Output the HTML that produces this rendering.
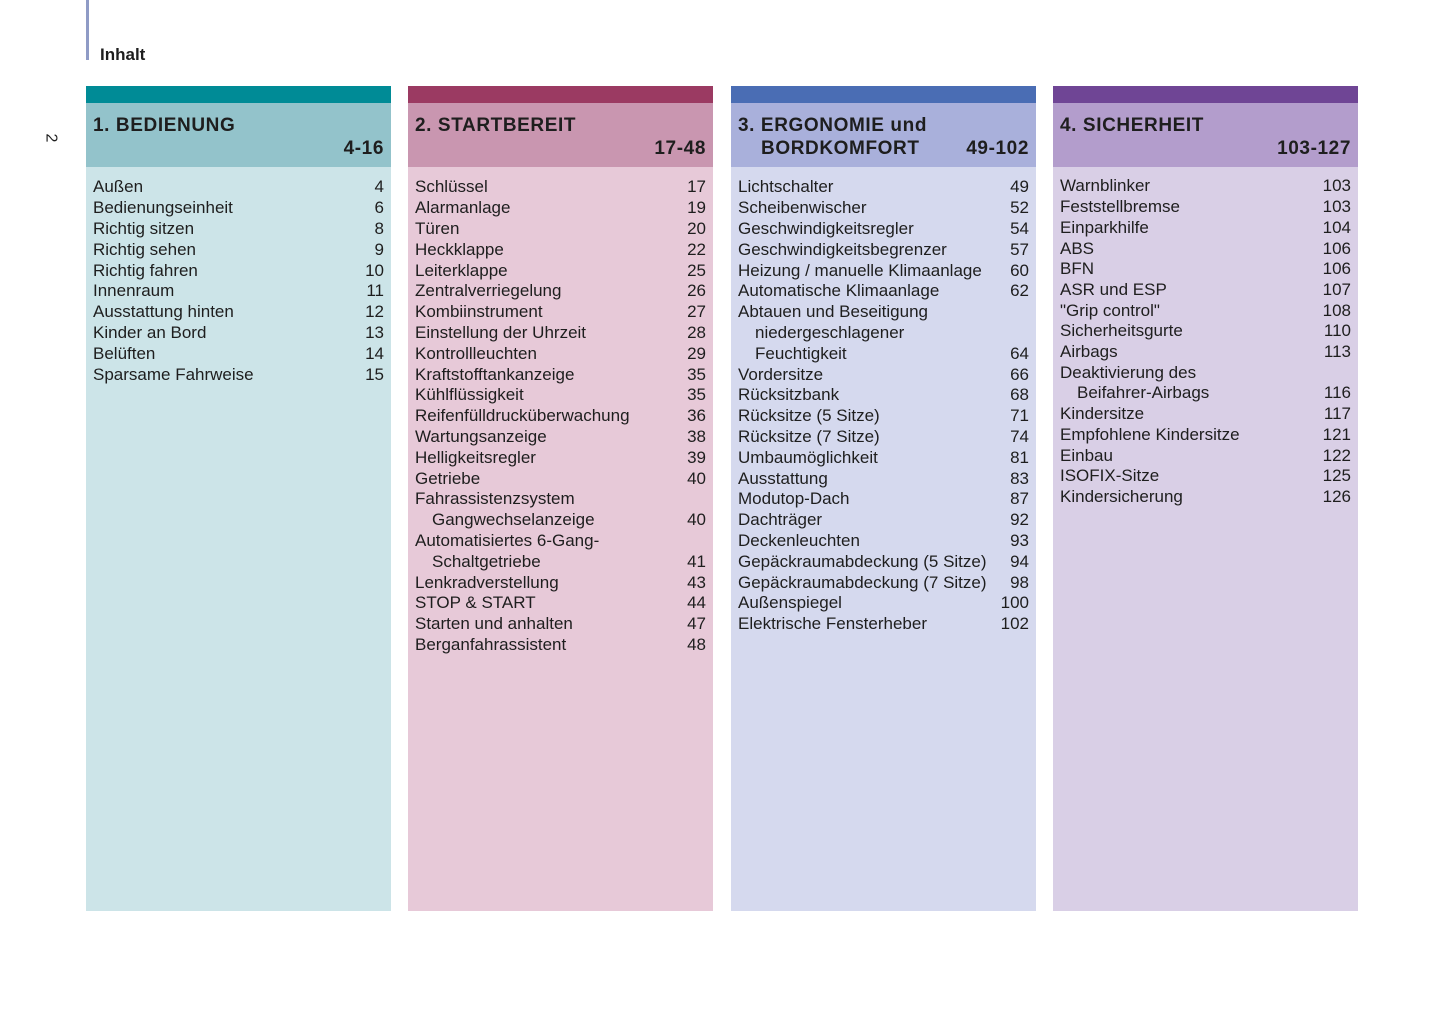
<!DOCTYPE html>
<html><head><meta charset="utf-8"><style>
body{margin:0;width:1445px;height:1026px;background:#fff;position:relative;font-family:"Liberation Sans",Arial,sans-serif;color:#1e1e1e;overflow:hidden}
.vl{position:absolute;left:86px;top:0;width:3px;height:60px;background:#8f9bc6}
.inh{position:absolute;left:100px;top:45px;font-size:17px;font-weight:bold}
.pg{position:absolute;left:46px;top:129px;font-size:16px;transform:rotate(90deg)}
.col{position:absolute;top:86px;width:305px;height:825px}
.bar{height:17px}
.hd{height:64px;position:relative;font-weight:bold;font-size:19px;letter-spacing:0.6px;line-height:22px}
.t1{position:absolute;left:7px;top:12px}
.t2{position:absolute;left:30px;top:35px}
.rg{position:absolute;right:7px;top:35px}
.bd{position:absolute;top:81px;left:0;right:0;bottom:0}
.ls{position:absolute;left:7px;right:7px;top:10.4px;font-size:17px;line-height:20.8px}
.ls div{display:flex;justify-content:space-between;white-space:nowrap}
.ls .i{padding-left:17px}
</style></head><body>
<div class="vl"></div><div class="inh">Inhalt</div><div class="pg">2</div>

<div class="col" style="left:86px">
<div class="bar" style="background:#008b96"></div>
<div class="hd" style="background:#93c3cb"><span class="t1">1. BEDIENUNG</span><span class="rg">4-16</span></div>
<div class="bd" style="background:#cce4e8"><div class="ls">
<div><span>Außen</span><span>4</span></div>
<div><span>Bedienungseinheit</span><span>6</span></div>
<div><span>Richtig sitzen</span><span>8</span></div>
<div><span>Richtig sehen</span><span>9</span></div>
<div><span>Richtig fahren</span><span>10</span></div>
<div><span>Innenraum</span><span>11</span></div>
<div><span>Ausstattung hinten</span><span>12</span></div>
<div><span>Kinder an Bord</span><span>13</span></div>
<div><span>Belüften</span><span>14</span></div>
<div><span>Sparsame Fahrweise</span><span>15</span></div>
</div></div></div>

<div class="col" style="left:408px">
<div class="bar" style="background:#9b3a62"></div>
<div class="hd" style="background:#c996b0"><span class="t1">2. STARTBEREIT</span><span class="rg">17-48</span></div>
<div class="bd" style="background:#e7c9d8"><div class="ls">
<div><span>Schlüssel</span><span>17</span></div>
<div><span>Alarmanlage</span><span>19</span></div>
<div><span>Türen</span><span>20</span></div>
<div><span>Heckklappe</span><span>22</span></div>
<div><span>Leiterklappe</span><span>25</span></div>
<div><span>Zentralverriegelung</span><span>26</span></div>
<div><span>Kombiinstrument</span><span>27</span></div>
<div><span>Einstellung der Uhrzeit</span><span>28</span></div>
<div><span>Kontrollleuchten</span><span>29</span></div>
<div><span>Kraftstofftankanzeige</span><span>35</span></div>
<div><span>Kühlflüssigkeit</span><span>35</span></div>
<div><span>Reifenfülldrucküberwachung</span><span>36</span></div>
<div><span>Wartungsanzeige</span><span>38</span></div>
<div><span>Helligkeitsregler</span><span>39</span></div>
<div><span>Getriebe</span><span>40</span></div>
<div><span>Fahrassistenzsystem</span><span></span></div>
<div class="i"><span>Gangwechselanzeige</span><span>40</span></div>
<div><span>Automatisiertes 6-Gang-</span><span></span></div>
<div class="i"><span>Schaltgetriebe</span><span>41</span></div>
<div><span>Lenkradverstellung</span><span>43</span></div>
<div><span>STOP &amp; START</span><span>44</span></div>
<div><span>Starten und anhalten</span><span>47</span></div>
<div><span>Berganfahrassistent</span><span>48</span></div>
</div></div></div>

<div class="col" style="left:731px">
<div class="bar" style="background:#4a6db4"></div>
<div class="hd" style="background:#a9b0db"><span class="t1">3. ERGONOMIE und</span><span class="t2">BORDKOMFORT</span><span class="rg">49-102</span></div>
<div class="bd" style="background:#d5d9ee"><div class="ls">
<div><span>Lichtschalter</span><span>49</span></div>
<div><span>Scheibenwischer</span><span>52</span></div>
<div><span>Geschwindigkeitsregler</span><span>54</span></div>
<div><span>Geschwindigkeitsbegrenzer</span><span>57</span></div>
<div><span>Heizung / manuelle Klimaanlage</span><span>60</span></div>
<div><span>Automatische Klimaanlage</span><span>62</span></div>
<div><span>Abtauen und Beseitigung</span><span></span></div>
<div class="i"><span>niedergeschlagener</span><span></span></div>
<div class="i"><span>Feuchtigkeit</span><span>64</span></div>
<div><span>Vordersitze</span><span>66</span></div>
<div><span>Rücksitzbank</span><span>68</span></div>
<div><span>Rücksitze (5 Sitze)</span><span>71</span></div>
<div><span>Rücksitze (7 Sitze)</span><span>74</span></div>
<div><span>Umbaumöglichkeit</span><span>81</span></div>
<div><span>Ausstattung</span><span>83</span></div>
<div><span>Modutop-Dach</span><span>87</span></div>
<div><span>Dachträger</span><span>92</span></div>
<div><span>Deckenleuchten</span><span>93</span></div>
<div><span>Gepäckraumabdeckung (5 Sitze)</span><span>94</span></div>
<div><span>Gepäckraumabdeckung (7 Sitze)</span><span>98</span></div>
<div><span>Außenspiegel</span><span>100</span></div>
<div><span>Elektrische Fensterheber</span><span>102</span></div>
</div></div></div>

<div class="col" style="left:1053px">
<div class="bar" style="background:#6f4595"></div>
<div class="hd" style="background:#b39dcc"><span class="t1">4. SICHERHEIT</span><span class="rg">103-127</span></div>
<div class="bd" style="background:#d9cfe6"><div class="ls" style="top:9.4px;line-height:20.7px">
<div><span>Warnblinker</span><span>103</span></div>
<div><span>Feststellbremse</span><span>103</span></div>
<div><span>Einparkhilfe</span><span>104</span></div>
<div><span>ABS</span><span>106</span></div>
<div><span>BFN</span><span>106</span></div>
<div><span>ASR und ESP</span><span>107</span></div>
<div><span>"Grip control"</span><span>108</span></div>
<div><span>Sicherheitsgurte</span><span>110</span></div>
<div><span>Airbags</span><span>113</span></div>
<div><span>Deaktivierung des</span><span></span></div>
<div class="i"><span>Beifahrer-Airbags</span><span>116</span></div>
<div><span>Kindersitze</span><span>117</span></div>
<div><span>Empfohlene Kindersitze</span><span>121</span></div>
<div><span>Einbau</span><span>122</span></div>
<div><span>ISOFIX-Sitze</span><span>125</span></div>
<div><span>Kindersicherung</span><span>126</span></div>
</div></div></div>
</body></html>
